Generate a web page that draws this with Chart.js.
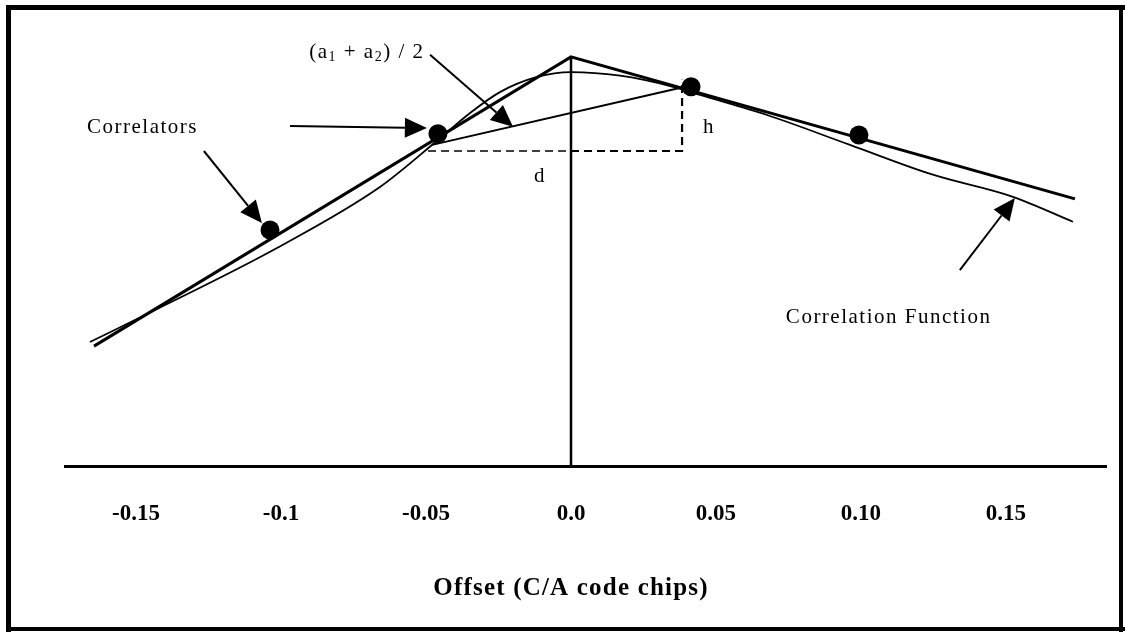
<!DOCTYPE html>
<html>
<head>
<meta charset="utf-8">
<script src="https://cdn.jsdelivr.net/npm/chart.js@4.4.1/dist/chart.umd.min.js"></script>
<style>
  body { margin: 0; background: #fff; }
  canvas { display: block; }
</style>
</head>
<body>
<canvas id="chart" width="1125" height="632"></canvas>
<script>
// x = offset in C/A code chips, y = normalised correlation (peak = 1)
const tickValues = [-0.15, -0.1, -0.05, 0, 0.05, 0.10, 0.15];
const tickLabels = ['-0.15', '-0.1', '-0.05', '0.0', '0.05', '0.10', '0.15'];

// ideal triangle
const idealX = [-0.1645, 0, 0.1738];
const idealY = [0.293, 1.0, 0.653];

// measured correlation function (rounded peak)
const corrFnX = [-0.1659, -0.1441, -0.1014, -0.0659, -0.0459, -0.0348, -0.0245, -0.0117, 0, 0.0169, 0.0352, 0.0445, 0.0676, 0.0962, 0.1248, 0.1524, 0.1731];
const corrFnY = [0.303, 0.379, 0.533, 0.682, 0.797, 0.863, 0.914, 0.951, 0.963, 0.954, 0.927, 0.907, 0.858, 0.785, 0.712, 0.658, 0.597];

// correlator taps
const correlatorX = [-0.1038, -0.0459, 0.0414, 0.0993];
const correlatorY = [0.577, 0.812, 0.927, 0.809];

// (a1 + a2) / 2 chord
const chordX = [-0.0479, 0.0393];
const chordY = [0.785, 0.927];

// d and h construction
const dLeftX = [-0.0493, 0];
const dLeftY = [0.770, 0.770];
const dRightX = [0, 0.0383, 0.0383];
const dRightY = [0.770, 0.770, 0.944];

const zeroX = [0, 0];
const zeroY = [0, 1.0];

// arrows: [fromX, fromY, toX, toY]
const arrows = [
  [-0.0486, 1.005, -0.0200, 0.829],
  [-0.0969, 0.831, -0.0497, 0.826],
  [-0.1266, 0.770, -0.1066, 0.594],
  [0.1341, 0.479, 0.1531, 0.655]
];

// labels: text, x, y (baseline), align
const labels = [
  ['Correlators', -0.1669, 0.814, 'left'],
  ['Correlation Function', 0.0741, 0.349, 'left'],
  ['h', 0.0476, 0.814, 'center'],
  ['d', -0.0107, 0.695, 'center']
];
const chordLabel = [['(a', false], ['1', true], [' + a', false], ['2', true], [') / 2', false]];
const chordLabelPos = [-0.0903, 0.998];

const axisTitle = 'Offset (C/A code chips)';

function pts(xs, ys) {
  return xs.map((x, i) => ({ x: x, y: ys[i] }));
}

function lineSet(xs, ys, width, dash) {
  return {
    data: pts(xs, ys),
    showLine: true,
    borderColor: '#000',
    borderWidth: width,
    borderDash: dash || [],
    pointRadius: 0,
    fill: false
  };
}

const serif = '"Liberation Serif", "Times New Roman", serif';

const diagram = {
  id: 'diagram',
  beforeDraw(chart) {
    const ctx = chart.ctx;
    ctx.save();
    ctx.fillStyle = '#fff';
    ctx.fillRect(0, 0, chart.width, chart.height);
    ctx.restore();
  },
  afterDraw(chart) {
    const ctx = chart.ctx;
    const xs = chart.scales.x, ys = chart.scales.y;
    ctx.save();
    ctx.fillStyle = '#000';
    ctx.strokeStyle = '#000';

    // arrows
    arrows.forEach(a => {
      const x0 = xs.getPixelForValue(a[0]), y0 = ys.getPixelForValue(a[1]);
      const x1 = xs.getPixelForValue(a[2]), y1 = ys.getPixelForValue(a[3]);
      const ang = Math.atan2(y1 - y0, x1 - x0);
      const len = 22, half = 10;
      const bx = x1 - len * Math.cos(ang), by = y1 - len * Math.sin(ang);
      ctx.lineWidth = 2;
      ctx.beginPath();
      ctx.moveTo(x0, y0);
      ctx.lineTo(bx, by);
      ctx.stroke();
      ctx.beginPath();
      ctx.moveTo(x1, y1);
      ctx.lineTo(bx + half * Math.sin(ang), by - half * Math.cos(ang));
      ctx.lineTo(bx - half * Math.sin(ang), by + half * Math.cos(ang));
      ctx.closePath();
      ctx.fill();
    });

    // text labels
    ctx.font = '21px ' + serif;
    ctx.letterSpacing = '1.5px';
    ctx.textBaseline = 'alphabetic';
    labels.forEach(l => {
      ctx.textAlign = l[3];
      ctx.fillText(l[0], xs.getPixelForValue(l[1]), ys.getPixelForValue(l[2]));
    });

    // (a1 + a2) / 2 with subscripts
    ctx.textAlign = 'left';
    let cx = xs.getPixelForValue(chordLabelPos[0]);
    const cy = ys.getPixelForValue(chordLabelPos[1]);
    chordLabel.forEach(p => {
      ctx.font = (p[1] ? '14px ' : '21px ') + serif;
      const yy = p[1] ? cy + 3 : cy;
      ctx.fillText(p[0], cx, yy);
      cx += ctx.measureText(p[0]).width;
    });

    // axis title, centred under the zero line
    ctx.font = 'bold 25px ' + serif;
    ctx.letterSpacing = '1.2px';
    ctx.textAlign = 'center';
    ctx.fillText(axisTitle, xs.getPixelForValue(0), 595);
    ctx.letterSpacing = '0px';

    // frame
    ctx.lineWidth = 5;
    ctx.beginPath();
    ctx.moveTo(6, 7.5); ctx.lineTo(1125, 7.5);
    ctx.moveTo(8.5, 5); ctx.lineTo(8.5, 632);
    ctx.stroke();
    ctx.lineWidth = 4;
    ctx.beginPath();
    ctx.moveTo(6, 629); ctx.lineTo(1125, 629);
    ctx.moveTo(1121, 5); ctx.lineTo(1121, 632);
    ctx.stroke();
    ctx.restore();
  }
};

const correlatorSet = {
  data: pts(correlatorX, correlatorY),
  showLine: false,
  pointRadius: 9.5,
  pointHoverRadius: 9.5,
  pointBackgroundColor: '#000',
  pointBorderColor: '#000',
  pointBorderWidth: 0
};

const corrFnSet = lineSet(corrFnX, corrFnY, 1.8);
corrFnSet.cubicInterpolationMode = 'monotone';

new Chart(document.getElementById('chart'), {
  type: 'scatter',
  data: {
    datasets: [
      lineSet(zeroX, zeroY, 2.5),
      lineSet(dLeftX, dLeftY, 1.3, [8, 5]),
      lineSet(dRightX, dRightY, 2.2, [8, 5]),
      lineSet(chordX, chordY, 2),
      corrFnSet,
      lineSet(idealX, idealY, 3),
      correlatorSet
    ]
  },
  options: {
    responsive: false,
    devicePixelRatio: 1,
    animation: false,
    layout: { padding: { left: 65, right: 19, top: 16, bottom: 0 } },
    plugins: {
      legend: { display: false },
      tooltip: { enabled: false }
    },
    scales: {
      x: {
        type: 'linear',
        min: -0.1745,
        max: 0.1845,
        grid: { display: false, drawTicks: false },
        border: { display: true, color: '#000', width: 3 },
        afterBuildTicks: scale => { scale.ticks = tickValues.map(v => ({ value: v })); },
        afterFit: scale => { scale.height = 166; },
        ticks: {
          autoSkip: false,
          maxRotation: 0,
          padding: 34,
          color: '#000',
          font: { family: serif, size: 23, weight: 'bold' },
          callback: (value, index) => tickLabels[index]
        }
      },
      y: {
        type: 'linear',
        min: 0,
        max: 1.1,
        display: false
      }
    }
  },
  plugins: [diagram]
});
</script>
</body>
</html>
